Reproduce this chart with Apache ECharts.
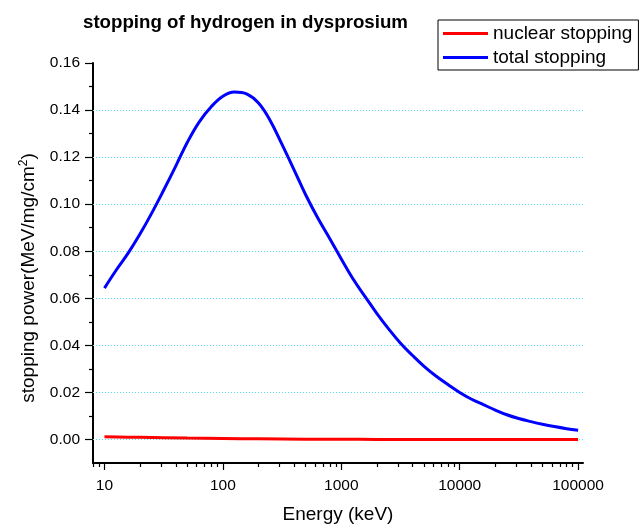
<!DOCTYPE html>
<html>
<head>
<meta charset="utf-8">
<script src="https://cdn.jsdelivr.net/npm/echarts@6/dist/echarts.min.js"></script>
<style>
  html, body { margin: 0; padding: 0; background: #fff; }
  #chart { width: 640px; height: 529px; }
</style>
</head>
<body>
<div id="chart"></div>
<script>
// Proton energy in keV (R10 preferred numbers, ten per decade)
const energy = [10, 12.5, 16, 20, 25, 31.5, 40, 50, 63, 80,
  100, 125, 160, 200, 250, 315, 400, 500, 630, 800,
  1000, 1250, 1600, 2000, 2500, 3150, 4000, 5000, 6300, 8000,
  10000, 12500, 16000, 20000, 25000, 31500, 40000, 50000, 63000, 80000, 100000];

// Total stopping power, MeV/(mg/cm2)
const totalStopping = [0.0643, 0.0718, 0.0795, 0.0874, 0.0961, 0.1058, 0.1162, 0.1262, 0.1349, 0.1415,
  0.1459, 0.1477, 0.1468, 0.1430, 0.1357, 0.1255, 0.1145, 0.1040, 0.0943, 0.0853,
  0.0767, 0.0684, 0.0605, 0.0535, 0.0471, 0.0410, 0.0357, 0.0311, 0.0270, 0.0233,
  0.0200, 0.0172, 0.0147, 0.0125, 0.0105, 0.0089, 0.0076, 0.0065, 0.0055, 0.0046, 0.0039];

// Nuclear stopping power, MeV/(mg/cm2)
const nuclearEnergy = [10, 20, 50, 100, 200, 500, 1000, 2000, 5000, 10000, 20000, 50000, 100000];
const nuclearStopping = [0.00115, 0.00090, 0.00058, 0.00040, 0.00026, 0.00013, 0.00007, 0.00004,
  0.00002, 0.00001, 0.000005, 0.000002, 0.000001];

const xMajorTicks = [10, 100, 1000, 10000, 100000];
const xMinorTicks = [8, 9, 20, 30, 40, 50, 60, 70, 80, 90, 200, 300, 400, 500, 600, 700, 800, 900,
  2000, 3000, 4000, 5000, 6000, 7000, 8000, 9000, 20000, 30000, 40000, 50000, 60000, 70000, 80000, 90000];
const yMajorTicks = [0, 0.02, 0.04, 0.06, 0.08, 0.10, 0.12, 0.14, 0.16];
const yMinorTicks = [0.01, 0.03, 0.05, 0.07, 0.09, 0.11, 0.13, 0.15];
const yGridLines = [0, 0.02, 0.04, 0.06, 0.08, 0.10, 0.12, 0.14];

const font = 'Arial, "Liberation Sans", sans-serif';
const black = '#000';
const gridColor = '#55e6f2';

const pairs = (xs, ys) => xs.map((x, i) => [x, ys[i]]);

const chart = echarts.init(document.getElementById('chart'), null, { renderer: 'canvas' });

const xBase = {
  type: 'log', logBase: 10, min: 8, max: 110000,
  gridIndex: 0, position: 'bottom',
  splitLine: { show: false }, minorTick: { show: false }, minorSplitLine: { show: false }
};
const yBase = {
  type: 'value', min: -0.01, max: 0.16,
  gridIndex: 0, position: 'left',
  splitLine: { show: false }, minorTick: { show: false }
};

chart.setOption({
  animation: false,
  backgroundColor: '#fff',
  title: {
    text: 'stopping of hydrogen in dysprosium',
    left: 78, top: 8,
    textStyle: { fontFamily: font, fontSize: 18.7, fontWeight: 'bold', color: black }
  },
  legend: {
    orient: 'vertical',
    left: 438, top: 20,
    padding: [4, 6, 3, 5],
    itemGap: 5,
    icon: 'rect',
    itemWidth: 45, itemHeight: 3,
    borderColor: black, borderWidth: 1,
    textStyle: { fontFamily: font, fontSize: 19, color: black },
    data: ['nuclear stopping', 'total stopping']
  },
  grid: { left: 93, right: 57, top: 63, bottom: 65, containLabel: false },
  xAxis: [
    Object.assign({}, xBase, {
      name: 'Energy (keV)', nameLocation: 'middle', nameGap: 42,
      nameTextStyle: { fontFamily: font, fontSize: 19, color: black },
      axisLine: { show: true, onZero: false, lineStyle: { color: black, width: 2 } },
      axisTick: { show: true, customValues: xMajorTicks, length: 7, lineStyle: { color: black, width: 1.2 } },
      axisLabel: { show: true, customValues: xMajorTicks, margin: 15,
        fontFamily: font, fontSize: 15.5, color: black, formatter: v => String(Math.round(v)) }
    }),
    Object.assign({}, xBase, {
      axisLine: { show: false, onZero: false },
      axisTick: { show: true, customValues: xMinorTicks, length: 4, lineStyle: { color: black, width: 1.2 } },
      axisLabel: { show: false }
    })
  ],
  yAxis: [
    Object.assign({}, yBase, {
      name: 'stopping power(MeV/mg/cm{sup|2})', nameLocation: 'middle', nameGap: 53,
      nameTextStyle: { fontFamily: font, fontSize: 19, color: black, padding: [0, 30, 0, 0],
        rich: { sup: { fontFamily: font, fontSize: 12, color: black, padding: [0, 0, 10, 0] } } },
      axisLine: { show: true, onZero: false, lineStyle: { color: black, width: 2 } },
      axisTick: { show: true, customValues: yMajorTicks, length: 8, lineStyle: { color: black, width: 1.2 } },
      axisLabel: { show: true, customValues: yMajorTicks, margin: 13,
        fontFamily: font, fontSize: 15.5, color: black, formatter: v => v.toFixed(2) }
    }),
    Object.assign({}, yBase, {
      axisLine: { show: false, onZero: false },
      axisTick: { show: true, customValues: yMinorTicks, length: 4, lineStyle: { color: black, width: 1.2 } },
      axisLabel: { show: false }
    })
  ],
  series: [
    {
      name: 'grid',
      type: 'line', xAxisIndex: 0, yAxisIndex: 0,
      data: [], silent: true,
      markLine: {
        silent: true, symbol: 'none', z: 1, animation: false,
        label: { show: false },
        lineStyle: { color: gridColor, width: 1, type: [1, 2], opacity: 1 },
        emphasis: { disabled: true },
        data: yGridLines.map(v => ({ yAxis: v, lineStyle: { color: gridColor, type: [1, 2] } }))
      }
    },
    {
      name: 'nuclear stopping',
      type: 'line', xAxisIndex: 0, yAxisIndex: 0,
      data: pairs(nuclearEnergy, nuclearStopping),
      smooth: 0.4, showSymbol: false, symbol: 'none',
      lineStyle: { color: '#ff0000', width: 3 },
      itemStyle: { color: '#ff0000' }, z: 3
    },
    {
      name: 'total stopping',
      type: 'line', xAxisIndex: 0, yAxisIndex: 0,
      data: pairs(energy, totalStopping),
      smooth: 0.4, showSymbol: false, symbol: 'none',
      lineStyle: { color: '#0000ff', width: 3 },
      itemStyle: { color: '#0000ff' }, z: 4
    }
  ]
});
</script>
</body>
</html>
